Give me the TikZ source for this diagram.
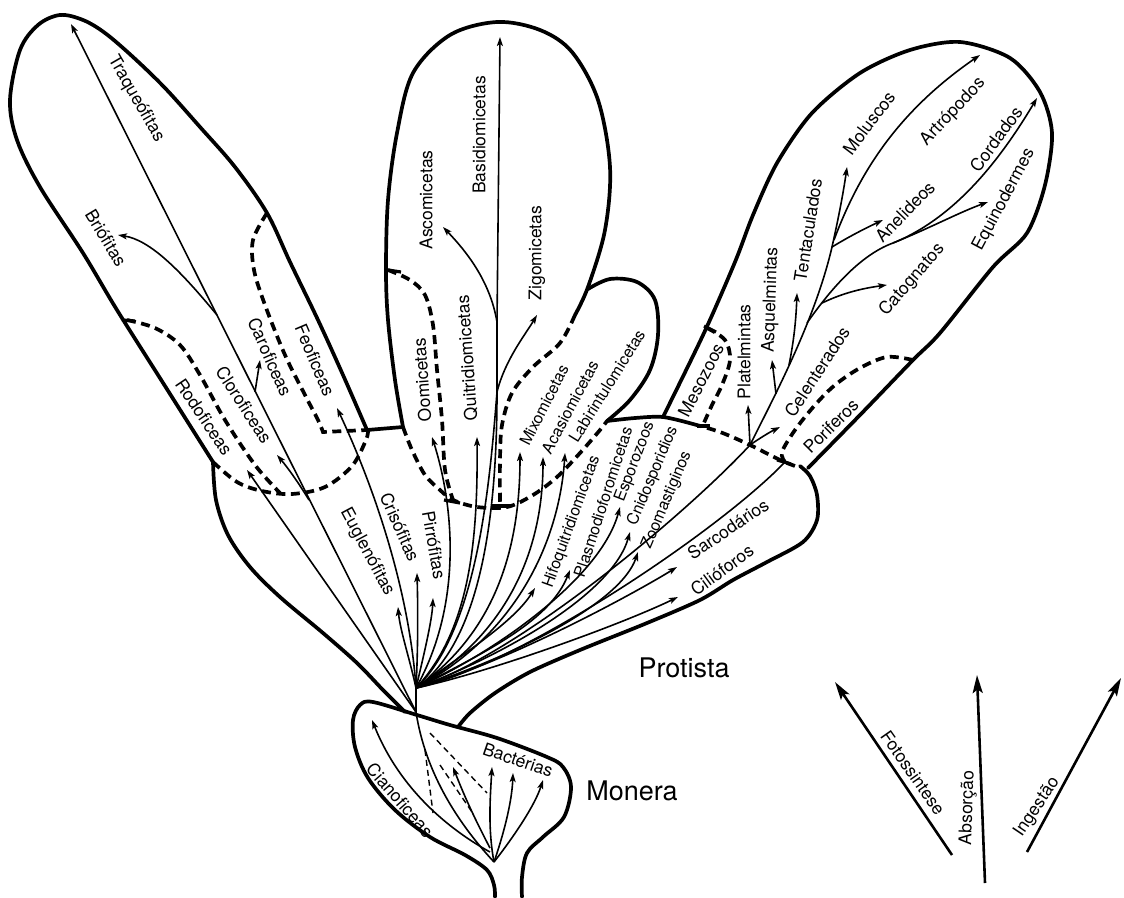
\documentclass[tikz,border=0pt]{standalone}
\usepackage{fontspec}
\setmainfont{TeX Gyre Heros}
\usetikzlibrary{arrows.meta}
\begin{document}
\begin{tikzpicture}[x=1pt,y=-1pt,
  outl/.style={line width=3.7pt,line cap=round,line join=round},
  dsh/.style={line width=3.7pt,dash pattern=on 9pt off 5.5pt},
  tick/.style={line width=3.2pt},
  thindsh/.style={line width=1.4pt,dash pattern=on 6pt off 4pt},
  br/.style={line width=1.6pt},
  arr/.style={br,-{Stealth[length=9pt,width=6pt,inset=2pt]}},
  legarr/.style={line width=2.6pt,-{Stealth[length=18pt,width=10pt,inset=3.5pt]}},
  lbl/.style={font=\fontsize{17.5}{17.5}\selectfont,inner sep=0pt},
  lbls/.style={font=\fontsize{16}{16}\selectfont,inner sep=0pt},
  big/.style={font=\fontsize{27}{27}\selectfont,inner sep=0pt},
]
\useasboundingbox (0,0) rectangle (1124,897);

% ---------- key points ----------
\coordinate (R) at (494,862);   % Monera root
\coordinate (S) at (416,712);   % plant origin
\coordinate (F) at (416,688);   % protist fan
\coordinate (A0) at (750,445);  % metazoa
\coordinate (A1) at (832,247);
\coordinate (B2) at (807,323);
\coordinate (B3) at (893,243);
\coordinate (FM) at (497,392);  % fungi main
\coordinate (FA) at (497,322);

% ---------- outlines ----------
% plant lobe
\draw[outl] plot[smooth,tension=0.55] coordinates {(367,430) (343,375) (318,320) (290,262) (267,213) (235,167) (200,127) (165,88) (133,57) (105,33) (83,20) (60,15) (38,25) (20,50) (10,100) (17,140) (40,187) (83,253) (117,310) (165,386) (213,462)};
% protista left
\draw[outl] plot[smooth,tension=0.55] coordinates {(213,462) (216,500) (228,535) (250,567) (280,597) (323,633) (357,663) (383,690) (405,712)};
% fungi lobe
\draw[outl] plot[smooth,tension=0.55] coordinates {(403,427) (395,380) (388,320) (386,270) (388,200) (397,133) (413,73) (450,35) (497,22) (540,30) (572,52) (598,100) (610,167) (605,230) (588,287) (575,315)};
% small lobe
\draw[outl] plot[smooth,tension=0.55] coordinates {(588,289) (610,279) (637,282) (655,300) (658,335) (650,370) (630,400) (607,421)};
\draw[outl] (367,430) -- (403,427);
\draw[outl] plot[smooth,tension=0.5] coordinates {(607,421) (635,418) (663,417) (693,424)};
% animal lobe
\draw[outl] plot[smooth,tension=0.5] coordinates {(663,417) (704,333) (735,262) (753,215) (777,163) (812,113) (860,73) (910,50) (960,42) (1010,58) (1040,92) (1052,133) (1045,185) (1027,233) (993,267) (940,333) (913,360) (860,415) (808,468)};
% protista right lobe
\draw[outl] plot[smooth,tension=0.5] coordinates {(800,466) (810,476) (817,495) (817,520) (803,542) (767,562) (733,580) (700,600) (647,623) (580,650) (530,672) (495,693) (470,713) (458,727)};
% monera bulb
\draw[outl] plot[smooth,tension=0.55] coordinates {(495,897) (494,885) (487,870) (465,855) (430,837) (395,810) (368,778) (355,747) (353,720) (360,705) (373,702) (417,715) (450,725) (497,738) (547,757) (563,767) (571,787) (564,817) (543,837) (527,853) (522,877) (522,897)};

% ---------- dashed boundaries ----------
\draw[dsh] plot[smooth,tension=0.55] coordinates {(267,213) (253,240) (254,270) (265,305) (285,355) (305,395) (318,420) (323,432)} -- (367,430);
\draw[dsh] plot[smooth,tension=0.55] coordinates {(127,320) (155,328) (180,345) (200,375) (225,420) (255,465) (280,493)};
\draw[dsh] plot[smooth,tension=0.55] coordinates {(213,462) (237,482) (262,491) (292,494) (325,487) (352,466) (366,440) (368,430)};
\draw[dsh] plot[smooth,tension=0.55] coordinates {(403,427) (412,450) (425,475) (440,490) (453,500) (477,507) (507,507) (533,495) (557,477) (580,453) (600,430) (607,421)};
\draw[dsh] plot[smooth,tension=0.55] coordinates {(388,270) (410,280) (425,295) (433,325) (437,370) (442,420) (445,470) (453,500)};
\draw[dsh] plot[smooth,tension=0.55] coordinates {(575,315) (560,343) (533,367) (512,393) (502,425) (500,460) (500,505)};
\draw[dsh] plot[smooth,tension=0.55] coordinates {(693,424) (720,432) (750,445) (780,460) (795,466)};
\draw[dsh] plot[smooth,tension=0.55] coordinates {(707,328) (725,340) (730,360) (722,385) (712,405) (703,425)};
\draw[dsh] plot[smooth,tension=0.55] coordinates {(913,360) (887,357) (860,368) (835,385) (815,405) (795,430) (782,452) (785,462)};
% bracket ticks
\draw[tick] (704,326) -- (716,332);
\draw[tick] (697,426) -- (710,426);
\draw[tick] (388,270) -- (401,272);
\draw[tick] (444,500) -- (460,503);
\draw[tick] (492,506) -- (510,506);
\draw[tick] (122,320) -- (135,321);
\draw[tick] (777,460) -- (791,464);

% ---------- Monera ----------
\draw[br] (R) .. controls (455,820) and (425,770) .. (S) -- (F);
\draw[arr] (490,848) .. controls (470,810) and (460,785) .. (453,767);
\draw[arr] (490,852) .. controls (450,830) and (400,790) .. (372,720);
\draw[arr] (R) .. controls (488,830) and (490,800) .. (492,767);
\draw[arr] (R) .. controls (505,830) and (512,800) .. (513,773);
\draw[arr] (R) .. controls (515,835) and (535,805) .. (543,780);
\draw[thindsh] (425,750) -- (433,813);
\draw[thindsh] (430,733) -- (487,793);
\draw[thindsh] (440,765) -- (472,812);

% ---------- plants / algae ----------
\draw[arr] (S) -- (247,470);
\draw[arr] (S) -- (71,24);
\draw[arr] (217,315) .. controls (180,270) and (150,240) .. (118,235);
\draw[arr] (255,392) -- (260,360);
\draw[arr] (309,500) .. controls (298,482) and (288,468) .. (277,455);
\draw[arr] (F) .. controls (410,600) and (380,500) .. (337,408);
\draw[arr] (F) .. controls (410,660) and (400,630) .. (398,607);
\draw[arr] (F) .. controls (418,650) and (418,610) .. (417,573);
\draw[arr] (F) .. controls (425,650) and (432,620) .. (433,598);

% ---------- fungi & slime moulds ----------
\draw[arr] (F) .. controls (465,600) and (452,500) .. (432,437);
\draw[arr] (F) .. controls (470,630) and (478,540) .. (477,437);
\draw[br] (F) .. controls (485,640) and (497,500) .. (FM) -- (FA);
\draw[br] (F) .. controls (478,630) and (490,480) .. (FM);
\draw[arr] (FA) -- (500,37);
\draw[arr] (FA) .. controls (490,280) and (465,250) .. (443,227);
\draw[arr] (FM) .. controls (505,360) and (525,335) .. (537,315);
\draw[arr] (F) .. controls (500,630) and (520,540) .. (520,452);
\draw[arr] (F) .. controls (515,630) and (543,540) .. (543,457);
\draw[arr] (F) .. controls (525,630) and (560,530) .. (565,453);

% ---------- protists ----------
\draw[arr] (F) .. controls (470,650) and (515,620) .. (535,588);
\draw[arr] (F) .. controls (490,650) and (550,620) .. (570,570);
\draw[arr] (F) .. controls (490,655) and (600,580) .. (620,507);
\draw[arr] (F) .. controls (500,657) and (612,595) .. (630,532);
\draw[arr] (F) .. controls (505,660) and (620,605) .. (638,552);
\draw[arr] (F) .. controls (510,662) and (640,590) .. (677,567);
\draw[arr] (F) .. controls (490,672) and (620,625) .. (678,597);

% ---------- animals ----------
\draw[br] (F) .. controls (520,655) and (690,510) .. (A0);
\draw[br] (F) .. controls (520,665) and (720,530) .. (785,462);
\draw[br] (A0) .. controls (775,395) and (815,320) .. (A1);
\draw[arr] (A0) -- (748,405);
\draw[arr] (A0) .. controls (760,438) and (770,432) .. (780,427);
\draw[arr] (776,394) -- (772,360);
\draw[arr] (789,365) .. controls (794,340) and (796,320) .. (797,293);
\draw[arr] (A1) .. controls (838,220) and (843,195) .. (847,167);
\draw[arr] (834,240) .. controls (860,170) and (900,110) .. (980,55);
\draw[arr] (A1) .. controls (850,236) and (866,228) .. (883,220);
\draw[br] (B2) .. controls (830,290) and (860,255) .. (B3);
\draw[arr] (822,303) .. controls (845,292) and (865,288) .. (887,285);
\draw[arr] (B3) .. controls (930,228) and (960,212) .. (988,202);
\draw[arr] (B3) .. controls (955,218) and (1000,160) .. (1037,98);

% ---------- legend arrows ----------
\coordinate (L1) at (952,855); \coordinate (L1t) at (835,682);
\coordinate (L2) at (985,883); \coordinate (L2t) at (977,675);
\coordinate (L3) at (1027,852); \coordinate (L3t) at (1121,678);
\draw[legarr] (L1) -- (L1t);
\draw[legarr] (L2) -- (L2t);
\draw[legarr] (L3) -- (L3t);

% ---------- labels ----------
\node[lbl,rotate=-60] (tTraq) at (136,99) {Traqueófitas};
\node[lbl,rotate=-59] (tBrio) at (106,238) {Briófitas};
\node[lbl,rotate=-66] (tCaro) at (270,357) {Caroficeas};
\node[lbl,rotate=-67] (tFeo) at (315,360) {Feoficeas};
\node[lbl,rotate=-57] (tClor) at (244,405) {Cloroficeas};
\node[lbl,rotate=-56] (tRodo) at (204,417) {Rodoficeas};
\node[lbl,rotate=-62] (tEugl) at (367,552) {Euglenófitas};
\node[lbl,rotate=-66] (tCris) at (400,527) {Crisófitas};
\node[lbl,rotate=-80] (tPirr) at (434,545) {Pirrófitas};
\node[lbl,rotate=94] (tOomi) at (422,380) {Oomicetas};
\node[lbl,rotate=94] (tQuit) at (467,358) {Quitridiomicetas};
\node[lbl,rotate=90] (tAsco) at (426,200) {Ascomicetas};
\node[lbl,rotate=90] (tBasi) at (479,135) {Basidiomicetas};
\node[lbl,rotate=90] (tZigo) at (537,253) {Zigomicetas};
\node[lbls,rotate=63] (tMixo) at (544,405) {Mixomicetas};
\node[lbls,rotate=62] (tAcas) at (570,407) {Acasiomicetas};
\node[lbls,rotate=58] (tLabi) at (607,386) {Labirintulomicetas};
\node[lbls,rotate=70] (tHifo) at (572,522) {Hifoquitridiomicetas};
\node[lbls,rotate=72] (tPlas) at (603,502) {Plasmodioforomicetas};
\node[lbls,rotate=69] (tEspo) at (635,462) {Esporozoos};
\node[lbls,rotate=67] (tCnid) at (653,476) {Cnidosporidios};
\node[lbls,rotate=67] (tZoom) at (667,500) {Zoomastiginos};
\node[lbl,rotate=34] (tSarc) at (728,529) {Sarcodários};
\node[lbl,rotate=36] (tCili) at (722,570) {Cilióforos};
\node[lbl,rotate=63] (tMeso) at (701,380) {Mesozoos};
\node[lbl,rotate=90] (tPlat) at (744,352) {Platelmintas};
\node[lbl,rotate=88] (tAsqu) at (771,300) {Asquelmintas};
\node[lbl,rotate=81] (tTent) at (808,230) {Tentaculados};
\node[lbl,rotate=57] (tCele) at (817,372) {Celenterados};
\node[lbl,rotate=45] (tPori) at (831,426) {Poriferos};
\node[lbl,rotate=53] (tMolu) at (869,123) {Moluscos};
\node[lbl,rotate=47] (tArtr) at (953,112) {Artrópodos};
\node[lbl,rotate=46] (tAnel) at (905,212) {Anelideos};
\node[lbl,rotate=49] (tCato) at (912,280) {Catognatos};
\node[lbl,rotate=54] (tCord) at (996,139) {Cordados};
\node[lbl,rotate=62] (tEqui) at (1004,200) {Equinodermes};
\node[lbl,rotate=-19] (tBact) at (518,760) {Bactérias};
\node[lbl,rotate=-49] (tCian) at (400,800) {Cianoficeas};
\node[lbl,rotate=-55] (tFoto) at (913,773) {Fotossintese};
\node[lbl,rotate=88] (tAbso) at (968,808) {Absorção};
\node[lbl,rotate=56] (tInge) at (1037,807) {Ingestão};
\node[big] (tProt) at (684,668) {Protista};
\node[big] (tMone) at (632,791) {Monera};
\end{tikzpicture}
\end{document}
